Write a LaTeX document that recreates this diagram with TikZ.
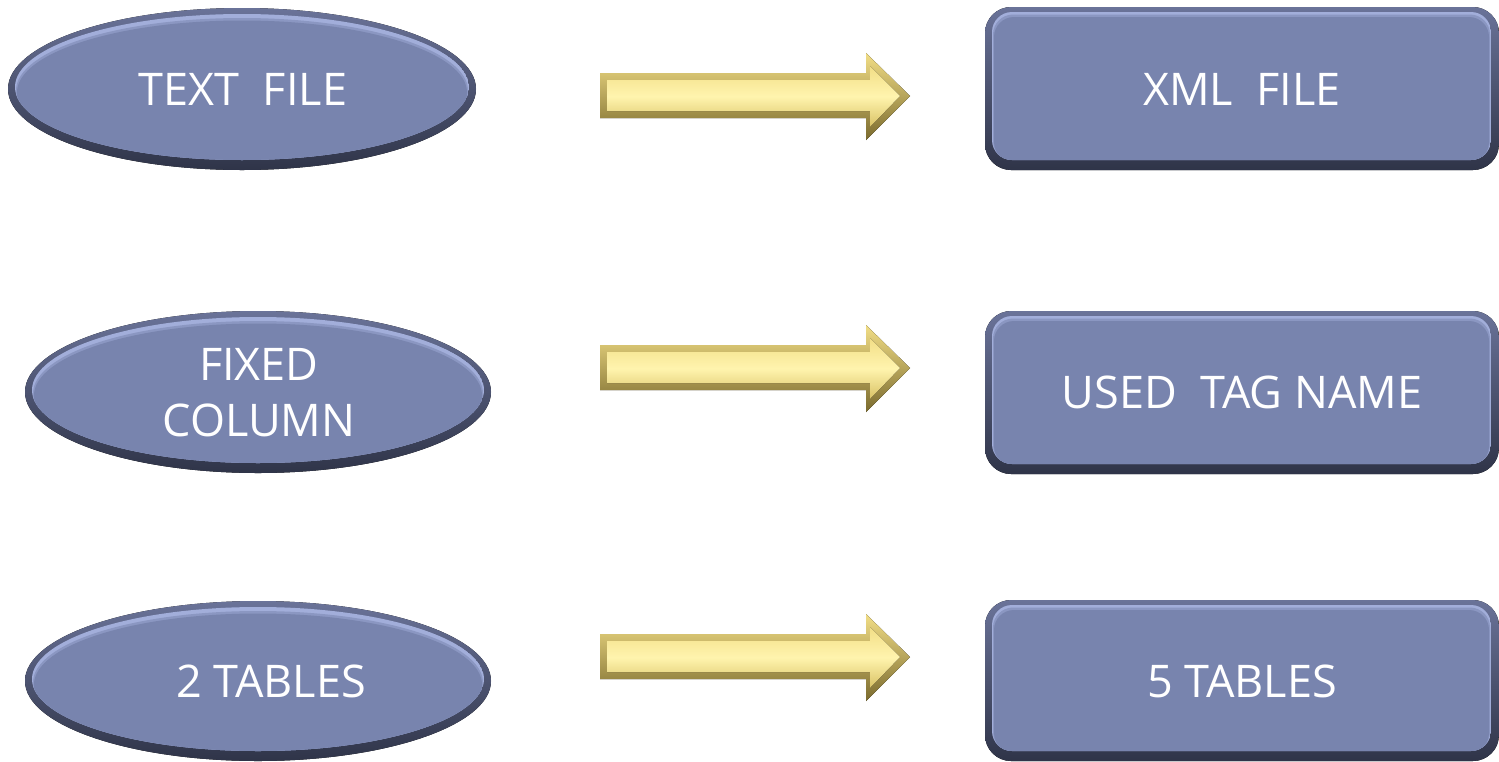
\documentclass[tikz,border=0pt]{standalone}
\usepackage{fontspec}
\setmainfont{Open Sans}
\usetikzlibrary{calc}
\definecolor{bfill}{HTML}{7884AE}
\definecolor{bhi}{HTML}{A2AEDA}
\definecolor{brimtop}{HTML}{6A7399}
\definecolor{brimbot}{HTML}{2F3448}
\definecolor{gdark}{HTML}{7A6A2E}
\definecolor{glight}{HTML}{F2DE86}
\definecolor{gpale}{HTML}{FFF4AE}
\definecolor{gmid}{HTML}{D9C265}
\tikzset{
  lbl/.style={text=white, font=\fontsize{45}{56}\selectfont, align=center},
}
% ellipse with bevel: #1 name, #2 cx, #3 cy, #4 rx, #5 ry
\newcommand\bevelellipse[5]{%
  \fill[top color=brimtop, bottom color=brimbot] (#2,#3) ellipse [x radius=#4, y radius=#5];
  \begin{scope}
    \clip (#2,{#3-2}) ellipse [x radius={#4-7}, y radius={#5-8}];
    \fill[bhi] (#2,{#3-2}) ellipse [x radius={#4-7}, y radius={#5-8}];
    \fill[bfill!55!bhi] (#2,{#3+1.5}) ellipse [x radius={#4-8}, y radius={#5-8.5}];
    \fill[bfill] (#2,{#3+3.5}) ellipse [x radius={#4-9}, y radius={#5-9}];
  \end{scope}
}
% rounded rect with bevel: x1 y1 x2 y2
\newcommand\bevelrect[4]{%
  \fill[top color=brimtop, bottom color=brimbot, rounded corners=26] (#1,#2) rectangle (#3,#4);
  \begin{scope}
    \clip[rounded corners=20] ({#1+7},{#2+5}) rectangle ({#3-8},{#4-10});
    \fill[bhi] ({#1+7},{#2+5}) rectangle ({#3-8},{#4-10});
    \fill[bfill!55!bhi, rounded corners=20] ({#1+8},{#2+7.5}) rectangle ({#3-9},{#4-9});
    \fill[bfill, rounded corners=20] ({#1+9},{#2+10}) rectangle ({#3-10},{#4-8});
  \end{scope}
}
% gold block arrow centered at y
\newcommand\goldarrow[1]{%
  \fill[top color=glight, bottom color=gdark]
    (600,{#1-23}) -- (866,{#1-23}) -- (866,{#1-43}) -- (910,{#1}) -- (866,{#1+44}) -- (866,{#1+22}) -- (600,{#1+22}) -- cycle;
  \fill[top color=glight, bottom color=gmid, middle color=gpale]
    (607,{#1-16}) -- (870,{#1-16}) -- (870,{#1-30}) -- (900,{#1}) -- (870,{#1+31}) -- (870,{#1+15}) -- (607,{#1+15}) -- cycle;
}
\begin{document}
\begin{tikzpicture}[x=1pt,y=-1pt]
\useasboundingbox (0,0) rectangle (1499,761);
\fill[white] (0,0) rectangle (1499,761);
% left ellipses
\bevelellipse{e1}{242}{89}{234}{81}
\bevelellipse{e2}{258}{392}{233}{81}
\bevelellipse{e3}{258}{681}{233}{80}
% right boxes
\bevelrect{985}{7}{1499}{170}
\bevelrect{985}{311}{1499}{474}
\bevelrect{985}{600}{1499}{761}
% arrows
\goldarrow{96}
\goldarrow{368}
\goldarrow{657}
% labels
\node[lbl] (t1) at (243,89) {TEXT\ \ FILE};
\node[lbl] (t2) at (259,393) {FIXED\\COLUMN};
\node[lbl] (t3) at (271,681) {2 TABLES};
\node[lbl] (r1) at (1242,89) {XML\ \ FILE};
\node[lbl] (r2) at (1242,392) {USED\ \ TAG NAME};
\node[lbl] (r3) at (1242,681) {5 TABLES};
\end{tikzpicture}
\end{document}
